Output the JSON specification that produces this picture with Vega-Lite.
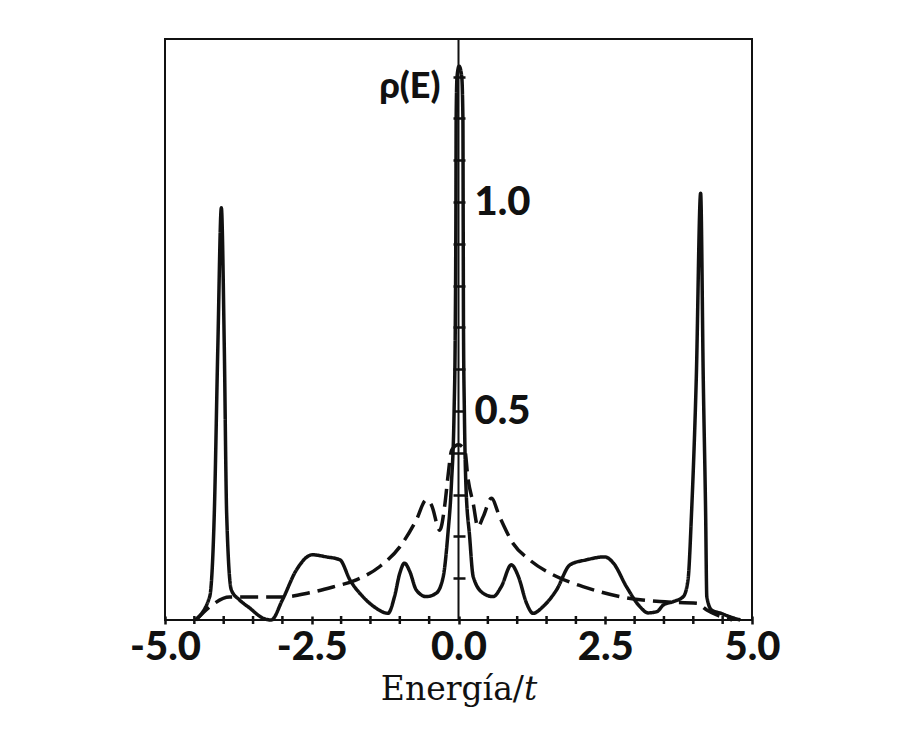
{
  "$schema": "https://vega.github.io/schema/vega-lite/v6.json",
  "width": 587,
  "height": 581,
  "autosize": "none",
  "padding": {"left": 165, "top": 39, "right": 155, "bottom": 130},
  "background": "white",
  "config": {
    "view": {"stroke": "#111111", "strokeWidth": 2},
    "axis": {"labelOverlap": false, "labelBound": false, "labelFlush": false}
  },
  "datasets": {
    "curves": [
      {"serie": "solid", "E": -4.49, "rho": 0},
      {"serie": "solid", "E": -4.24, "rho": 0.055},
      {"serie": "solid", "E": -4.16, "rho": 0.256},
      {"serie": "solid", "E": -4.10, "rho": 0.653},
      {"serie": "solid", "E": -4.04, "rho": 0.986},
      {"serie": "solid", "E": -3.99, "rho": 0.653},
      {"serie": "solid", "E": -3.95, "rho": 0.256},
      {"serie": "solid", "E": -3.87, "rho": 0.072},
      {"serie": "solid", "E": -3.73, "rho": 0.048},
      {"serie": "solid", "E": -3.56, "rho": 0.029},
      {"serie": "solid", "E": -3.34, "rho": 0.005},
      {"serie": "solid", "E": -3.19, "rho": 0},
      {"serie": "solid", "E": -3.00, "rho": 0.048},
      {"serie": "solid", "E": -2.76, "rho": 0.120},
      {"serie": "solid", "E": -2.49, "rho": 0.156},
      {"serie": "solid", "E": -2.25, "rho": 0.151},
      {"serie": "solid", "E": -2.02, "rho": 0.144},
      {"serie": "solid", "E": -1.85, "rho": 0.096},
      {"serie": "solid", "E": -1.63, "rho": 0.056},
      {"serie": "solid", "E": -1.40, "rho": 0.028},
      {"serie": "solid", "E": -1.20, "rho": 0.016},
      {"serie": "solid", "E": -1.09, "rho": 0.056},
      {"serie": "solid", "E": -1.00, "rho": 0.112},
      {"serie": "solid", "E": -0.92, "rho": 0.136},
      {"serie": "solid", "E": -0.83, "rho": 0.116},
      {"serie": "solid", "E": -0.72, "rho": 0.072},
      {"serie": "solid", "E": -0.55, "rho": 0.056},
      {"serie": "solid", "E": -0.38, "rho": 0.064},
      {"serie": "solid", "E": -0.26, "rho": 0.104},
      {"serie": "solid", "E": -0.18, "rho": 0.207},
      {"serie": "solid", "E": -0.12, "rho": 0.327},
      {"serie": "solid", "E": -0.075, "rho": 0.50},
      {"serie": "solid", "E": -0.055, "rho": 0.70},
      {"serie": "solid", "E": -0.045, "rho": 0.95},
      {"serie": "solid", "E": -0.04, "rho": 1.20},
      {"serie": "solid", "E": -0.025, "rho": 1.30},
      {"serie": "solid", "E": 0.01, "rho": 1.325},
      {"serie": "solid", "E": 0.055, "rho": 1.30},
      {"serie": "solid", "E": 0.075, "rho": 1.20},
      {"serie": "solid", "E": 0.08, "rho": 0.95},
      {"serie": "solid", "E": 0.085, "rho": 0.70},
      {"serie": "solid", "E": 0.10, "rho": 0.50},
      {"serie": "solid", "E": 0.125, "rho": 0.327},
      {"serie": "solid", "E": 0.19, "rho": 0.199},
      {"serie": "solid", "E": 0.25, "rho": 0.104},
      {"serie": "solid", "E": 0.42, "rho": 0.064},
      {"serie": "solid", "E": 0.59, "rho": 0.056},
      {"serie": "solid", "E": 0.73, "rho": 0.080},
      {"serie": "solid", "E": 0.90, "rho": 0.132},
      {"serie": "solid", "E": 1.02, "rho": 0.104},
      {"serie": "solid", "E": 1.16, "rho": 0.040},
      {"serie": "solid", "E": 1.27, "rho": 0.016},
      {"serie": "solid", "E": 1.44, "rho": 0.032},
      {"serie": "solid", "E": 1.67, "rho": 0.072},
      {"serie": "solid", "E": 1.90, "rho": 0.132},
      {"serie": "solid", "E": 2.18, "rho": 0.144},
      {"serie": "solid", "E": 2.49, "rho": 0.151},
      {"serie": "solid", "E": 2.64, "rho": 0.136},
      {"serie": "solid", "E": 2.86, "rho": 0.080},
      {"serie": "solid", "E": 3.09, "rho": 0.032},
      {"serie": "solid", "E": 3.23, "rho": 0.017},
      {"serie": "solid", "E": 3.38, "rho": 0.020},
      {"serie": "solid", "E": 3.49, "rho": 0.036},
      {"serie": "solid", "E": 3.66, "rho": 0.044},
      {"serie": "solid", "E": 3.83, "rho": 0.056},
      {"serie": "solid", "E": 3.91, "rho": 0.096},
      {"serie": "solid", "E": 3.97, "rho": 0.256},
      {"serie": "solid", "E": 4.05, "rho": 0.574},
      {"serie": "solid", "E": 4.125, "rho": 1.021},
      {"serie": "solid", "E": 4.17, "rho": 0.574},
      {"serie": "solid", "E": 4.21, "rho": 0.256},
      {"serie": "solid", "E": 4.23, "rho": 0.056},
      {"serie": "solid", "E": 4.31, "rho": 0.024},
      {"serie": "solid", "E": 4.45, "rho": 0.017},
      {"serie": "solid", "E": 4.62, "rho": 0.008},
      {"serie": "solid", "E": 4.80, "rho": 0},
      {"serie": "dashed", "E": -4.47, "rho": 0},
      {"serie": "dashed", "E": -4.24, "rho": 0.031},
      {"serie": "dashed", "E": -3.90, "rho": 0.055},
      {"serie": "dashed", "E": -3.00, "rho": 0.055},
      {"serie": "dashed", "E": -2.54, "rho": 0.065},
      {"serie": "dashed", "E": -2.14, "rho": 0.079},
      {"serie": "dashed", "E": -1.74, "rho": 0.096},
      {"serie": "dashed", "E": -1.34, "rho": 0.128},
      {"serie": "dashed", "E": -1.00, "rho": 0.175},
      {"serie": "dashed", "E": -0.72, "rho": 0.239},
      {"serie": "dashed", "E": -0.55, "rho": 0.287},
      {"serie": "dashed", "E": -0.46, "rho": 0.275},
      {"serie": "dashed", "E": -0.32, "rho": 0.215},
      {"serie": "dashed", "E": -0.23, "rho": 0.279},
      {"serie": "dashed", "E": -0.18, "rho": 0.343},
      {"serie": "dashed", "E": -0.115, "rho": 0.407},
      {"serie": "dashed", "E": 0, "rho": 0.419},
      {"serie": "dashed", "E": 0.107, "rho": 0.407},
      {"serie": "dashed", "E": 0.16, "rho": 0.340},
      {"serie": "dashed", "E": 0.25, "rho": 0.279},
      {"serie": "dashed", "E": 0.33, "rho": 0.223},
      {"serie": "dashed", "E": 0.42, "rho": 0.247},
      {"serie": "dashed", "E": 0.56, "rho": 0.291},
      {"serie": "dashed", "E": 0.70, "rho": 0.247},
      {"serie": "dashed", "E": 0.93, "rho": 0.183},
      {"serie": "dashed", "E": 1.21, "rho": 0.144},
      {"serie": "dashed", "E": 1.67, "rho": 0.104},
      {"serie": "dashed", "E": 2.12, "rho": 0.080},
      {"serie": "dashed", "E": 2.86, "rho": 0.053},
      {"serie": "dashed", "E": 3.43, "rho": 0.044},
      {"serie": "dashed", "E": 4.06, "rho": 0.040},
      {"serie": "dashed", "E": 4.23, "rho": 0.024},
      {"serie": "dashed", "E": 4.40, "rho": 0.012},
      {"serie": "dashed", "E": 4.57, "rho": 0.004},
      {"serie": "dashed", "E": 4.66, "rho": 0}
    ],
    "minorTicks": [
      {"E": -4.5}, {"E": -4}, {"E": -3.5}, {"E": -3}, {"E": -2}, {"E": -1.5}, {"E": -1}, {"E": -0.5},
      {"E": 0.5}, {"E": 1}, {"E": 1.5}, {"E": 2}, {"E": 3}, {"E": 3.5}, {"E": 4}, {"E": 4.5}
    ]
  },
  "layer": [
    {
      "data": {"name": "curves"},
      "mark": {"type": "line", "interpolate": "monotone", "strokeWidth": 3.5, "color": "#111111"},
      "encoding": {
        "x": {
          "field": "E", "type": "quantitative",
          "scale": {"domain": [-5, 5], "nice": false, "zero": false},
          "axis": {
            "orient": "bottom", "offset": -4, "domain": false, "grid": false,
            "values": [-5, -2.5, 0, 2.5, 5],
            "tickSize": 8, "tickWidth": 2.5, "tickColor": "#111111",
            "labelExpr": "replace(format(datum.value, '.1f'), '\u2212', '-')",
            "labelFont": "Lato", "labelFontWeight": 900, "labelFontSize": 40,
            "labelColor": "#111111", "labelPadding": 3, "labelOverlap": false, "labelFlush": false, "labelBound": false,
            "title": "Energía/𝑡", "titleFont": "DejaVu Serif", "titleFontSize": 33, "titleFontWeight": "normal",
            "titleColor": "#111111", "titlePadding": 6
          }
        },
        "y": {
          "field": "rho", "type": "quantitative",
          "scale": {"domain": [0, 1.39], "nice": false},
          "axis": {
            "orient": "right", "offset": -299, "domain": false, "grid": false,
            "values": [0.1, 0.2, 0.3, 0.4, 0.5, 0.6, 0.7, 0.8, 0.9, 1.0, 1.1, 1.2, 1.3],
            "tickSize": 12, "tickWidth": 2.5, "tickColor": "#111111",
            "labelExpr": "datum.value == 0.5 || datum.value == 1 ? format(datum.value, '.1f') : ''",
            "labelFont": "Lato", "labelFontWeight": 900, "labelFontSize": 40,
            "labelColor": "#111111", "labelPadding": 9, "labelOverlap": false, "labelBound": false,
            "title": "ρ(E)", "titleAngle": 0, "titleAlign": "right", "titleBaseline": "middle",
            "titleX": -13, "titleY": 47,
            "titleFont": "Lato", "titleFontWeight": 900, "titleFontSize": 36, "titleColor": "#111111"
          }
        },
        "strokeDash": {
          "field": "serie", "type": "nominal",
          "scale": {"domain": ["solid", "dashed"], "range": [[1, 0], [18, 8]]},
          "legend": null
        }
      }
    },
    {
      "data": {"name": "minorTicks"},
      "mark": {"type": "tick", "orient": "vertical", "color": "#111111", "thickness": 2.5, "size": 8, "opacity": 1},
      "encoding": {
        "x": {"field": "E", "type": "quantitative"},
        "y": {"datum": 0, "type": "quantitative"}
      }
    },
    {
      "data": {"values": [{}]},
      "mark": {"type": "rule", "color": "#111111", "strokeWidth": 2},
      "encoding": {"x": {"datum": 0, "type": "quantitative"}}
    }
  ]
}
